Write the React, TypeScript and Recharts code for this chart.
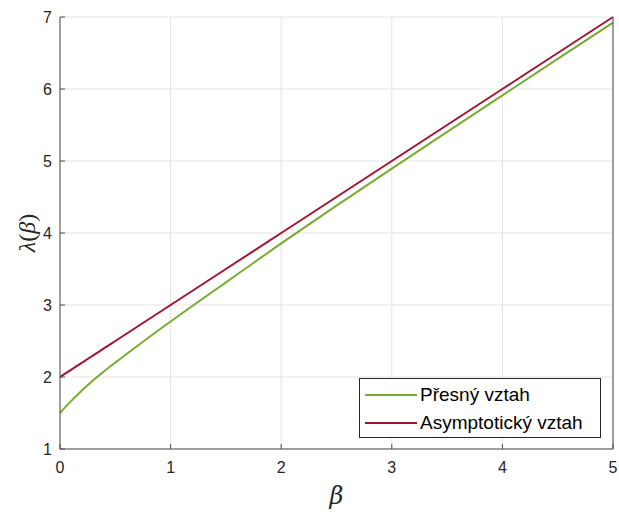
import React from 'react';
import {
    LineChart,
    Line,
    XAxis,
    YAxis,
    CartesianGrid,
    Legend,
} from 'recharts';

// beta values along the x axis
const betas = [0, 0.05, 0.1, 0.2, 0.3, 0.4, 0.5, 0.75, 1, 1.5, 2, 2.5, 3, 3.5, 4, 4.5, 5];
// exact relation (green)
const presny = [1.5, 1.585, 1.665, 1.815, 1.955, 2.08, 2.2, 2.49, 2.77, 3.315, 3.855, 4.38, 4.895, 5.405, 5.912, 6.418, 6.923];
// asymptotic relation (red)
const asymptoticky = [2, 2.05, 2.1, 2.2, 2.3, 2.4, 2.5, 2.75, 3, 3.5, 4, 4.5, 5, 5.5, 6, 6.5, 7];

const xTicks = [0, 1, 2, 3, 4, 5];
const yTicks = [1, 2, 3, 4, 5, 6, 7];

const SERIES = [
    { key: 'presny', name: 'Přesný vztah', color: '#77AC30' },
    { key: 'asym', name: 'Asymptotický vztah', color: '#A2142F' },
];

const data = betas.map((b, i) => ({ beta: b, presny: presny[i], asym: asymptoticky[i] }));

const FONT = '"Liberation Sans", Helvetica, Arial, sans-serif';
const AXIS = '#4d4d4d';
const TICK_STYLE = { fontFamily: FONT, fontSize: 16, fill: '#262626' };

const LegendBox = () => (
    <div
        style={{
            boxSizing: 'border-box',
            width: 242,
            height: 60,
            border: '1px solid #262626',
            background: '#fff',
            fontFamily: FONT,
            fontSize: 19,
            color: '#000',
            paddingTop: 2,
        }}
    >
        {SERIES.map(s => (
            <div key={s.key} style={{ display: 'flex', alignItems: 'center', height: 28 }}>
                <svg width={55} height={10} style={{ marginLeft: 5 }}>
                    <line x1={0} y1={5} x2={52} y2={5} stroke={s.color} strokeWidth={2} />
                </svg>
                <span style={{ lineHeight: '28px' }}>{s.name}</span>
            </div>
        ))}
    </div>
);

export default function App() {
    return (
        <div style={{ position: 'absolute', left: 0, top: 0, background: '#fff' }}>
            <LineChart width={619} height={513} data={data} margin={{ top: 17, right: 0, left: 0, bottom: 0 }}>
                <CartesianGrid stroke="#e3e3e3" strokeWidth={1} horizontalValues={yTicks} verticalValues={xTicks} />
                <XAxis
                    dataKey="beta"
                    type="number"
                    domain={[0, 5]}
                    ticks={xTicks}
                    height={64}
                    stroke={AXIS}
                    tickSize={-5}
                    tickMargin={18}
                    tick={TICK_STYLE}
                    label={{
                        content: ({ viewBox }: any) => (
                            <text
                                x={viewBox.x + viewBox.width / 2}
                                y={viewBox.y + 55}
                                textAnchor="middle"
                                fontFamily='"DejaVu Serif", "Liberation Serif", serif'
                                fontStyle="italic"
                                fontSize={24}
                                fill="#262626"
                            >
                                β
                            </text>
                        ),
                    }}
                />
                <XAxis
                    xAxisId="top"
                    orientation="top"
                    dataKey="beta"
                    type="number"
                    domain={[0, 5]}
                    ticks={xTicks}
                    height={0}
                    stroke={AXIS}
                    tickSize={-5}
                    tick={false}
                />
                <YAxis
                    type="number"
                    domain={[1, 7]}
                    ticks={yTicks}
                    width={60}
                    stroke={AXIS}
                    tickSize={-5}
                    tickMargin={13}
                    tick={TICK_STYLE}
                    label={{
                        content: ({ viewBox }: any) => {
                            const cx = viewBox.x + 27;
                            const cy = viewBox.y + viewBox.height / 2;
                            return (
                                <text
                                    x={cx}
                                    y={cy}
                                    transform={`rotate(-90 ${cx} ${cy})`}
                                    textAnchor="middle"
                                    fontFamily='"Liberation Serif", "DejaVu Serif", serif'
                                    fontSize={24}
                                    fill="#262626"
                                    dy={8}
                                >
                                    <tspan fontStyle="italic">λ</tspan>
                                    <tspan>(</tspan>
                                    <tspan fontStyle="italic">β</tspan>
                                    <tspan>)</tspan>
                                </text>
                            );
                        },
                    }}
                />
                <YAxis
                    yAxisId="right"
                    orientation="right"
                    type="number"
                    domain={[1, 7]}
                    ticks={yTicks}
                    width={6}
                    stroke={AXIS}
                    tickSize={-5}
                    tick={false}
                />
                <Legend
                    layout="vertical"
                    align="center"
                    verticalAlign="middle"
                    content={() => <LegendBox />}
                    wrapperStyle={{ left: 359, top: 378, width: 242, height: 60 }}
                />
                {SERIES.map(s => (
                    <Line
                        key={s.key}
                        dataKey={s.key}
                        name={s.name}
                        type="monotone"
                        stroke={s.color}
                        strokeWidth={2}
                        dot={false}
                        activeDot={false}
                        isAnimationActive={false}
                    />
                ))}
            </LineChart>
        </div>
    );
}
